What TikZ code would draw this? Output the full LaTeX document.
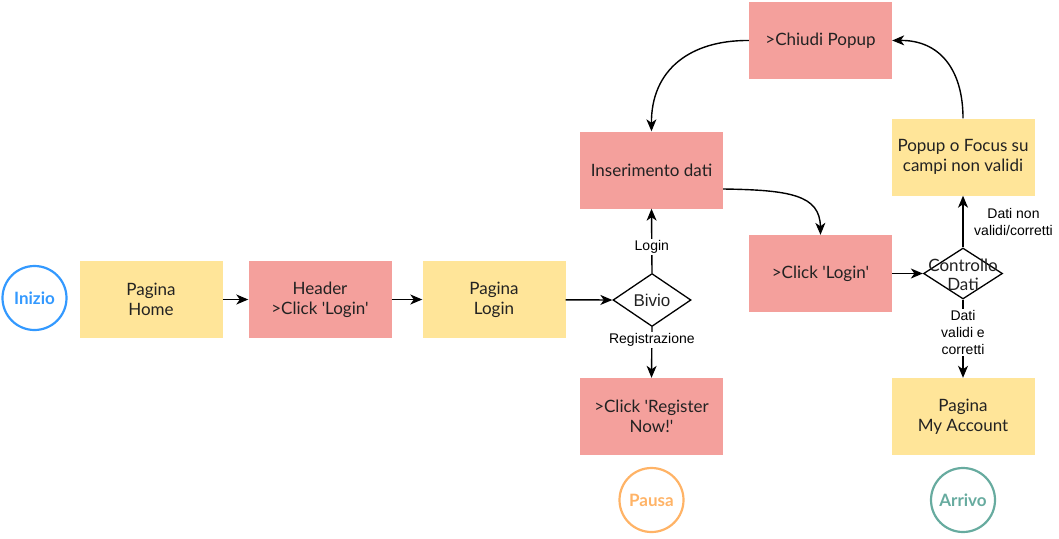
\documentclass[tikz,border=0pt]{standalone}
\usepackage{fontspec}
\setmainfont{Lato}[Ligatures=TeXOff]
\newfontfamily\lblfont{Liberation Sans}[Ligatures=TeXOff]
\usetikzlibrary{shapes.geometric,arrows.meta}
\definecolor{boxyellow}{HTML}{FFE599}
\definecolor{boxpink}{HTML}{F4A09C}
\definecolor{cblue}{HTML}{3399FF}
\definecolor{corange}{HTML}{FFB366}
\definecolor{cteal}{HTML}{67AB9F}
\definecolor{txt}{HTML}{222222}
\begin{document}
\begin{tikzpicture}[x=1pt,y=-1pt,
  yellowbox/.style={fill=boxyellow, draw=none, minimum width=143pt, minimum height=77pt, inner sep=0pt, align=center, text=txt, font=\fontsize{17}{20}\selectfont},
  pinkbox/.style={yellowbox, fill=boxpink},
  endcircle/.style={circle, line width=2.2pt, minimum size=64pt, inner sep=0pt, font=\fontsize{17}{20}\selectfont\bfseries},
  dia/.style={diamond, draw=black, line width=1.3pt, fill=white, minimum width=#1, minimum height=53pt, inner sep=0pt},
  diatext/.style={align=center, inner sep=0pt, text=txt},
  conn/.style={line width=1.4pt, -{Stealth[length=12pt,width=10pt,inset=3.5pt]}},
  elabel/.style={fill=white, inner sep=1.5pt, align=center, font=\lblfont\fontsize{14}{17}\selectfont, text=black}
]
\useasboundingbox (0,0) rectangle (1059,538);

% start / end circles
\node[endcircle, draw=cblue, text=cblue] (inizio) at (34.5,298) {Inizio};
\node[endcircle, draw=corange, text=corange] (pausa) at (651.5,500) {Pausa};
\node[endcircle, draw=cteal, text=cteal] (arrivo) at (963,500) {Arrivo};

% boxes
\node[yellowbox] (home) at (151,299.5) {Pagina\\Home};
\node[pinkbox] (header) at (320,299.5) {Header\\>Click 'Login'};
\node[yellowbox] (plogin) at (494,299.5) {Pagina\\Login};
\node[pinkbox] (ins) at (651.5,170) {Inserimento dati};
\node[pinkbox] (chiudi) at (820.5,40.5) {>Chiudi Popup};
\node[pinkbox] (clogin) at (820.5,273.5) {>Click 'Login'};
\node[yellowbox] (popup) at (963,157) {Popup o Focus su\\campi non validi};
\node[pinkbox] (register) at (651.5,416.5) {>Click 'Register\\Now!'};
\node[yellowbox] (myacc) at (963,416.5) {Pagina\\My Account};

% decisions
\node[dia=78pt] (bivio) at (652,300) {};
\node[diatext, font=\lblfont\fontsize{17}{20}\selectfont] (biviotxt) at (bivio) {Bivio};
\node[dia=79pt, minimum height=51pt] (ctrl) at (963,273.5) {};
\node[diatext, font=\fontsize{17}{19}\selectfont] (ctrltxt) at (963,275) {Controllo\\Dati};

% connectors
\draw[conn] (home) -- (header);
\draw[conn] (header) -- (plogin);
\draw[conn] (plogin) -- (bivio.west);
\draw[conn] (bivio.north) -- node[elabel, pos=0.4] {Login} (ins.south);
\draw[conn] (bivio.south) -- node[elabel, pos=0.25] {Registrazione} (register.north);
\draw[conn] ([yshift=-19pt]ins.east) .. controls (790,190) and (820,195) .. (clogin.north);
\draw[conn] (clogin.east) -- (ctrl.west);
\draw[conn] (ctrl.north) -- node[elabel, pos=0.5, anchor=west, xshift=9pt, fill=none] {Dati non\\validi/corretti} (popup.south);
\draw[conn] (ctrl.south) -- node[elabel, pos=0.42] {Dati\\validi e\\corretti} (myacc.north);
\draw[conn] (popup.north) .. controls (963,70) and (940,40) .. (chiudi.east);
\draw[conn] (chiudi.west) .. controls (690,40) and (651,70) .. (ins.north);
\end{tikzpicture}
\end{document}
